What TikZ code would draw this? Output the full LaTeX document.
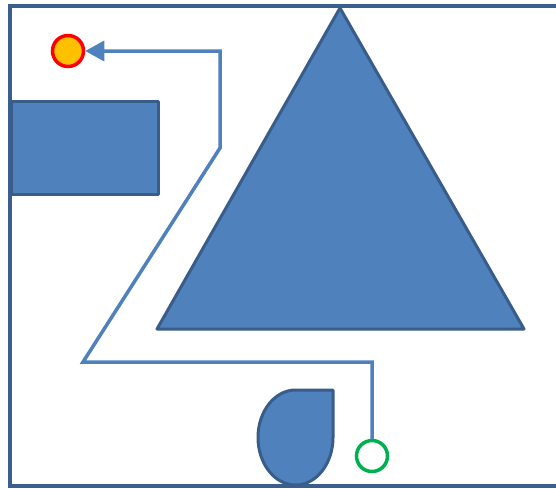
\documentclass[tikz,border=0pt]{standalone}
\usetikzlibrary{arrows.meta}
\definecolor{shapefill}{HTML}{4F81BD}
\definecolor{shapeline}{HTML}{385D8A}
\definecolor{frameline}{HTML}{3A5F8F}
\definecolor{orangefill}{HTML}{FFC000}
\definecolor{greenline}{HTML}{00B050}
\tikzset{
  bluefig/.style={fill=shapefill, draw=shapeline, line width=3pt, line join=round},
  conn/.style={draw=shapefill, line width=3.5pt, line join=miter},
  dot/.style={circle, inner sep=0pt, minimum size=31pt, line width=3.5pt}
}
\begin{document}
\begin{tikzpicture}[x=1pt,y=-1pt]
\useasboundingbox (0,0) rectangle (556,488);
\fill[white] (0,0) rectangle (556,488);
\begin{scope}
\clip (0,0) rectangle (556,488);
% frame
\draw[draw=frameline, line width=3.5pt] (10,6) rectangle (580,486);
% rectangle
\node[bluefig, anchor=north west, minimum width=147pt, minimum height=93pt, inner sep=0pt] (box) at (10,100) {};
% triangle
\coordinate (apex) at (340,8);
\coordinate (bl) at (157,329);
\coordinate (br) at (524,329);
\draw[bluefig] (apex) -- (bl) -- (br) -- cycle;
% teardrop
\draw[bluefig] (333,390) -- (333,437.5) arc[start angle=0, end angle=-270, x radius=37.5, y radius=-47.5] -- cycle;
% circles
\node[dot, fill=orangefill, draw=red] (start) at (68,51) {};
\node[dot, fill=white, draw=greenline] (finish) at (372,456) {};
% connector
\coordinate (c1) at (372,362);
\coordinate (c2) at (83,362);
\coordinate (c3) at (220,148);
\coordinate (c4) at (220,51);
\draw[conn, -{Triangle[length=19pt,width=20pt]}] (finish.north) -- (c1) -- (c2) -- (c3) -- (c4) -- (start.east);
\end{scope}
\end{tikzpicture}
\end{document}
